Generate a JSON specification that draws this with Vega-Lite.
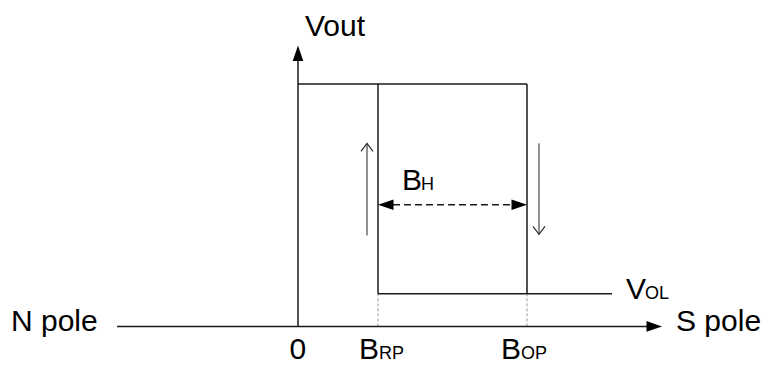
{
  "$schema": "https://vega.github.io/schema/vega-lite/v6.json",
  "width": 769,
  "height": 365,
  "padding": 0,
  "autosize": {"type": "fit", "contains": "padding"},
  "background": "white",
  "config": {"view": {"stroke": null}, "text": {"font": "Liberation Sans"}},
  "datasets": {
    "solid": [
      {"part": "B axis", "x": -181, "y": 0, "x2": 349, "y2": 0},
      {"part": "Vout axis", "x": 0, "y": 0, "x2": 0, "y2": 269},
      {"part": "high output", "x": 0, "y": 245, "x2": 229, "y2": 245},
      {"part": "release edge", "x": 80, "y": 33, "x2": 80, "y2": 245},
      {"part": "operate edge", "x": 229, "y": 33, "x2": 229, "y2": 245},
      {"part": "low output", "x": 80, "y": 33, "x2": 314, "y2": 33}
    ],
    "guides": [
      {"part": "BRP guide", "x": 80, "y": 0, "x2": 80, "y2": 33},
      {"part": "BOP guide", "x": 229, "y": 0, "x2": 229, "y2": 33}
    ],
    "hysteresis": [
      {"part": "BH", "x": 95, "y": 123, "x2": 214, "y2": 123}
    ],
    "shafts": [
      {"part": "rising", "x": 69, "y": 92, "x2": 69, "y2": 185},
      {"part": "falling", "x": 241, "y": 185, "x2": 241, "y2": 93}
    ],
    "heads": [
      {"part": "Vout axis", "x": 0, "y": 284, "dir": "up"},
      {"part": "B axis", "x": 364, "y": 0, "dir": "right"},
      {"part": "BH left", "x": 80, "y": 123, "dir": "left"},
      {"part": "BH right", "x": 229, "y": 123, "dir": "right"}
    ],
    "openHeads": [
      {"part": "rising", "x": 69, "y": 185, "pointing": "up"},
      {"part": "falling", "x": 241, "y": 93, "pointing": "down"}
    ],
    "labels": [
      {"text": "Vout", "role": "main", "x": 7, "y": 294},
      {"text": "N pole", "role": "main", "x": -287, "y": -5},
      {"text": "S pole", "role": "main", "x": 378, "y": -5},
      {"text": "0", "role": "main", "x": -8.5, "y": -33},
      {"text": "B", "role": "main", "x": 61, "y": -33},
      {"text": "RP", "role": "sub", "x": 81, "y": -33},
      {"text": "B", "role": "main", "x": 203, "y": -33},
      {"text": "OP", "role": "sub", "x": 223, "y": -33},
      {"text": "B", "role": "main", "x": 104, "y": 138},
      {"text": "H", "role": "sub", "x": 123, "y": 138},
      {"text": "V", "role": "main", "x": 328, "y": 28},
      {"text": "OL", "role": "sub", "x": 347, "y": 28}
    ]
  },
  "encoding": {
    "x": {"field": "x", "type": "quantitative", "scale": {"domain": [-298, 471], "nice": false, "zero": false}, "axis": null},
    "y": {"field": "y", "type": "quantitative", "scale": {"domain": [-35, 330], "nice": false, "zero": false}, "axis": null}
  },
  "resolve": {"scale": {"shape": "independent", "size": "independent"}},
  "layer": [
    {
      "data": {"name": "guides"},
      "mark": {"type": "rule", "color": "#9a9a9a", "strokeWidth": 1, "strokeDash": [3, 2]},
      "encoding": {"x2": {"field": "x2"}, "y2": {"field": "y2"}}
    },
    {
      "data": {"name": "solid"},
      "mark": {"type": "rule", "color": "#1a1a1a", "strokeWidth": 1.5},
      "encoding": {"x2": {"field": "x2"}, "y2": {"field": "y2"}}
    },
    {
      "data": {"name": "hysteresis"},
      "mark": {"type": "rule", "color": "#1a1a1a", "strokeWidth": 1.5, "strokeDash": [7, 4]},
      "encoding": {"x2": {"field": "x2"}, "y2": {"field": "y2"}}
    },
    {
      "data": {"name": "shafts"},
      "mark": {"type": "rule", "color": "#222222", "strokeWidth": 1},
      "encoding": {"x2": {"field": "x2"}, "y2": {"field": "y2"}}
    },
    {
      "data": {"name": "heads"},
      "mark": {"type": "point", "filled": true, "color": "black", "size": 961, "opacity": 1},
      "encoding": {
        "shape": {"field": "dir", "type": "nominal", "scale": {"domain": ["up", "right", "down", "left"], "range": ["M0,0L-0.34,1L0.34,1Z", "M0,0L-1,-0.34L-1,0.34Z", "M0,0L-0.34,-1L0.34,-1Z", "M0,0L1,-0.34L1,0.34Z"]}, "legend": null}
      }
    },
    {
      "data": {"name": "openHeads"},
      "mark": {"type": "point", "filled": false, "color": "#222222", "strokeWidth": 1.1, "size": 256, "opacity": 1},
      "encoding": {
        "shape": {"field": "pointing", "type": "nominal", "scale": {"domain": ["up", "down"], "range": ["M-0.75,1L0,0L0.75,1", "M-0.75,-1L0,0L0.75,-1"]}, "legend": null}
      }
    },
    {
      "data": {"name": "labels"},
      "mark": {"type": "text", "align": "left", "baseline": "alphabetic", "color": "black"},
      "encoding": {
        "text": {"field": "text"},
        "size": {"field": "role", "type": "nominal", "scale": {"domain": ["main", "sub"], "range": [30, 18]}, "legend": null}
      }
    }
  ]
}
